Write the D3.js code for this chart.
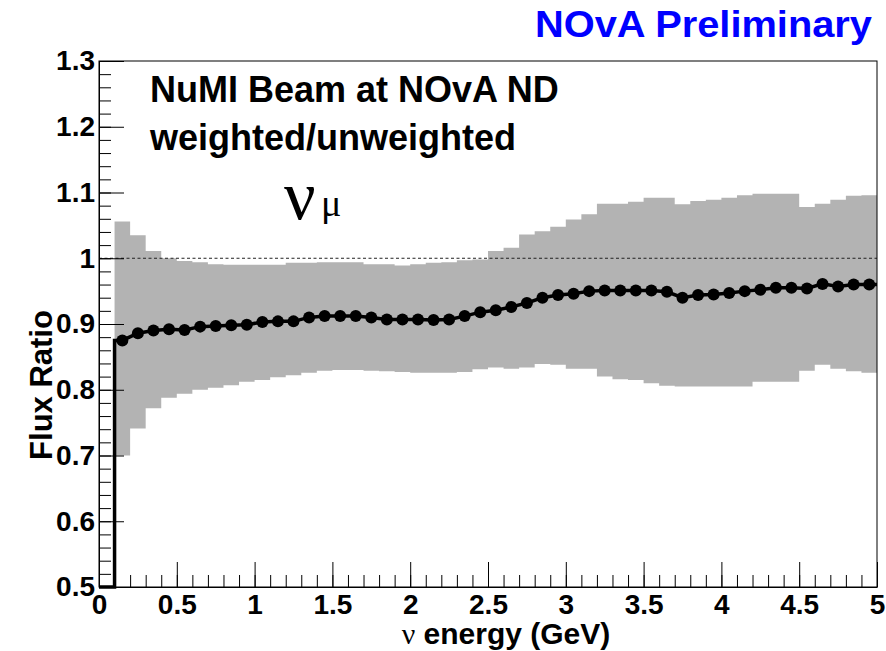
<!DOCTYPE html>
<html>
<head>
<meta charset="utf-8">
<script src="https://cdn.jsdelivr.net/npm/d3@7/dist/d3.min.js"></script>
<style>
  body { margin: 0; background: #fff; }
  text { font-family: "Liberation Sans", Arial, sans-serif; }
</style>
</head>
<body>
<script>
// bin low edges (GeV), 0.1 wide
var binLow = [0.1, 0.2, 0.3, 0.4, 0.5, 0.6, 0.7, 0.8, 0.9, 1.0,
              1.1, 1.2, 1.3, 1.4, 1.5, 1.6, 1.7, 1.8, 1.9, 2.0,
              2.1, 2.2, 2.3, 2.4, 2.5, 2.6, 2.7, 2.8, 2.9, 3.0,
              3.1, 3.2, 3.3, 3.4, 3.5, 3.6, 3.7, 3.8, 3.9, 4.0,
              4.1, 4.2, 4.3, 4.4, 4.5, 4.6, 4.7, 4.8, 4.9];
var binWidth = 0.1;

// weighted / unweighted flux ratio, one per bin
var ratio = [0.875, 0.886, 0.890, 0.892, 0.891, 0.896, 0.897, 0.898, 0.899, 0.903,
             0.904, 0.904, 0.910, 0.912, 0.912, 0.912, 0.910, 0.907, 0.907, 0.907,
             0.906, 0.907, 0.912, 0.918, 0.921, 0.926, 0.932, 0.940, 0.944, 0.946,
             0.950, 0.951, 0.951, 0.951, 0.951, 0.949, 0.940, 0.944, 0.945, 0.947,
             0.950, 0.952, 0.955, 0.955, 0.954, 0.961, 0.957, 0.960, 0.960];

// error band edges
var bandHigh = [1.056, 1.035, 1.011, 1.000, 0.996, 0.994, 0.991, 0.990, 0.990, 0.990,
                0.990, 0.993, 0.993, 0.994, 0.994, 0.994, 0.991, 0.991, 0.989, 0.991,
                0.993, 0.994, 0.997, 0.998, 1.011, 1.016, 1.036, 1.041, 1.048, 1.059,
                1.067, 1.083, 1.083, 1.086, 1.092, 1.092, 1.082, 1.087, 1.089, 1.092,
                1.096, 1.098, 1.098, 1.098, 1.078, 1.083, 1.089, 1.095, 1.096];
var bandLow = [0.700, 0.741, 0.772, 0.788, 0.794, 0.800, 0.803, 0.807, 0.812, 0.815,
               0.819, 0.822, 0.826, 0.829, 0.830, 0.830, 0.829, 0.828, 0.827, 0.826,
               0.826, 0.826, 0.827, 0.831, 0.834, 0.832, 0.834, 0.839, 0.838, 0.832,
               0.832, 0.820, 0.816, 0.815, 0.810, 0.806, 0.805, 0.805, 0.805, 0.805,
               0.805, 0.812, 0.812, 0.812, 0.829, 0.838, 0.832, 0.828, 0.826];

var xMajor = [0, 0.5, 1, 1.5, 2, 2.5, 3, 3.5, 4, 4.5, 5];
var yMajor = [0.5, 0.6, 0.7, 0.8, 0.9, 1, 1.1, 1.2, 1.3];

var W = 886, H = 651;
var frame = {left: 99, right: 877, top: 61, bottom: 587};

var x = d3.scaleLinear().domain([0, 5]).range([frame.left, frame.right]);
var y = d3.scaleLinear().domain([0.5, 1.3]).range([frame.bottom, frame.top]);

var svg = d3.select("body").append("svg")
    .attr("width", W)
    .attr("height", H);

// band, stepped per bin
var bins = binLow.map(function(e, i) {
  return {e: e, lo: bandLow[i], hi: bandHigh[i], r: ratio[i]};
});
var last = bins[bins.length - 1];
var bandData = bins.concat([{e: last.e + binWidth, lo: last.lo, hi: last.hi}]);

svg.append("path")
    .datum(bandData)
    .attr("fill", "#b3b3b3")
    .attr("d", d3.area()
      .curve(d3.curveStepAfter)
      .x(function(d) { return x(d.e); })
      .y0(function(d) { return y(d.lo); })
      .y1(function(d) { return y(d.hi); }));

// unity line
svg.append("line")
    .attr("x1", x(0)).attr("x2", x(5))
    .attr("y1", y(1)).attr("y2", y(1))
    .attr("stroke", "#222")
    .attr("stroke-width", 1)
    .attr("stroke-dasharray", "3,2.5");

// ratio line: starts at the bottom, steps up at the first bin edge
var linePts = [[0, 0.5], [binLow[0], 0.5], [binLow[0], ratio[0]]]
  .concat(bins.map(function(d) { return [d.e + binWidth / 2, d.r]; }))
  .concat([[last.e + binWidth, last.r]]);

svg.append("path")
    .datum(linePts)
    .attr("fill", "none")
    .attr("stroke", "#000")
    .attr("stroke-width", 3.5)
    .attr("d", d3.line()
      .x(function(d) { return x(d[0]); })
      .y(function(d) { return y(d[1]); }));

svg.selectAll(".pt")
    .data(bins)
  .enter().append("circle")
    .attr("class", "pt")
    .attr("cx", function(d) { return x(d.e + binWidth / 2); })
    .attr("cy", function(d) { return y(d.r); })
    .attr("r", 6)
    .attr("fill", "#000");

// axes, ticks pointing inwards
var fmt = function(d) { return d3.format("")(+d.toFixed(1)); };

var yMinor = d3.range(0.5, 1.3001, 0.02);
var xMinor = d3.range(0, 5.0001, 0.1);

svg.append("g")
    .attr("transform", "translate(" + frame.left + ",0)")
    .call(d3.axisLeft(y).tickValues(yMinor).tickSize(-12).tickFormat(""))
    .call(function(g) { g.select(".domain").remove(); });

svg.append("g")
    .attr("class", "yaxis")
    .attr("transform", "translate(" + frame.left + ",0)")
    .call(d3.axisLeft(y).tickValues(yMajor).tickSize(-25).tickSizeOuter(0).tickPadding(4).tickFormat(fmt));

svg.append("g")
    .attr("transform", "translate(0," + frame.bottom + ")")
    .call(d3.axisBottom(x).tickValues(xMinor).tickSize(-12).tickFormat(""))
    .call(function(g) { g.select(".domain").remove(); });

svg.append("g")
    .attr("class", "xaxis")
    .attr("transform", "translate(0," + frame.bottom + ")")
    .call(d3.axisBottom(x).tickValues(xMajor).tickSize(-25).tickSizeOuter(0).tickPadding(7).tickFormat(fmt));

svg.selectAll(".tick line").attr("stroke", "#000");
svg.selectAll(".yaxis text, .xaxis text")
    .style("font-family", "'Liberation Sans', Arial, sans-serif")
    .style("font-weight", "bold")
    .style("font-size", "28px")
    .attr("fill", "#000");

// frame
svg.append("rect")
    .attr("x", frame.left).attr("y", frame.top)
    .attr("width", frame.right - frame.left).attr("height", frame.bottom - frame.top)
    .attr("fill", "none")
    .attr("stroke", "#000")
    .attr("stroke-width", 1);

// titles
svg.append("text")
    .attr("transform", "translate(52,385) rotate(-90)")
    .attr("text-anchor", "middle")
    .style("font-weight", "bold")
    .style("font-size", "31px")
    .text("Flux Ratio");

var xt = svg.append("text")
    .attr("x", 506).attr("y", 644)
    .attr("text-anchor", "middle")
    .style("font-weight", "bold")
    .style("font-size", "30px");
xt.append("tspan").style("font-family", "'Liberation Serif', serif").style("font-weight", "normal").text("ν");
xt.append("tspan").text(" energy (GeV)");

svg.append("text")
    .attr("x", 535).attr("y", 37)
    .attr("fill", "#0000ff")
    .attr("textLength", 337)
    .attr("lengthAdjust", "spacingAndGlyphs")
    .style("font-weight", "bold")
    .style("font-size", "37px")
    .text("NOvA Preliminary");

svg.append("text")
    .attr("x", 150).attr("y", 102)
    .style("font-weight", "bold")
    .style("font-size", "36px")
    .text("NuMI Beam at NOvA ND");

svg.append("text")
    .attr("x", 150).attr("y", 150)
    .style("font-weight", "bold")
    .style("font-size", "36px")
    .text("weighted/unweighted");

svg.append("text")
    .attr("x", 284).attr("y", 219)
    .style("font-family", "'Liberation Serif', serif")
    .style("font-size", "70px")
    .text("ν");

svg.append("text")
    .attr("x", 321).attr("y", 216)
    .style("font-family", "'Liberation Serif', serif")
    .style("font-size", "38px")
    .text("μ");
</script>
</body>
</html>
